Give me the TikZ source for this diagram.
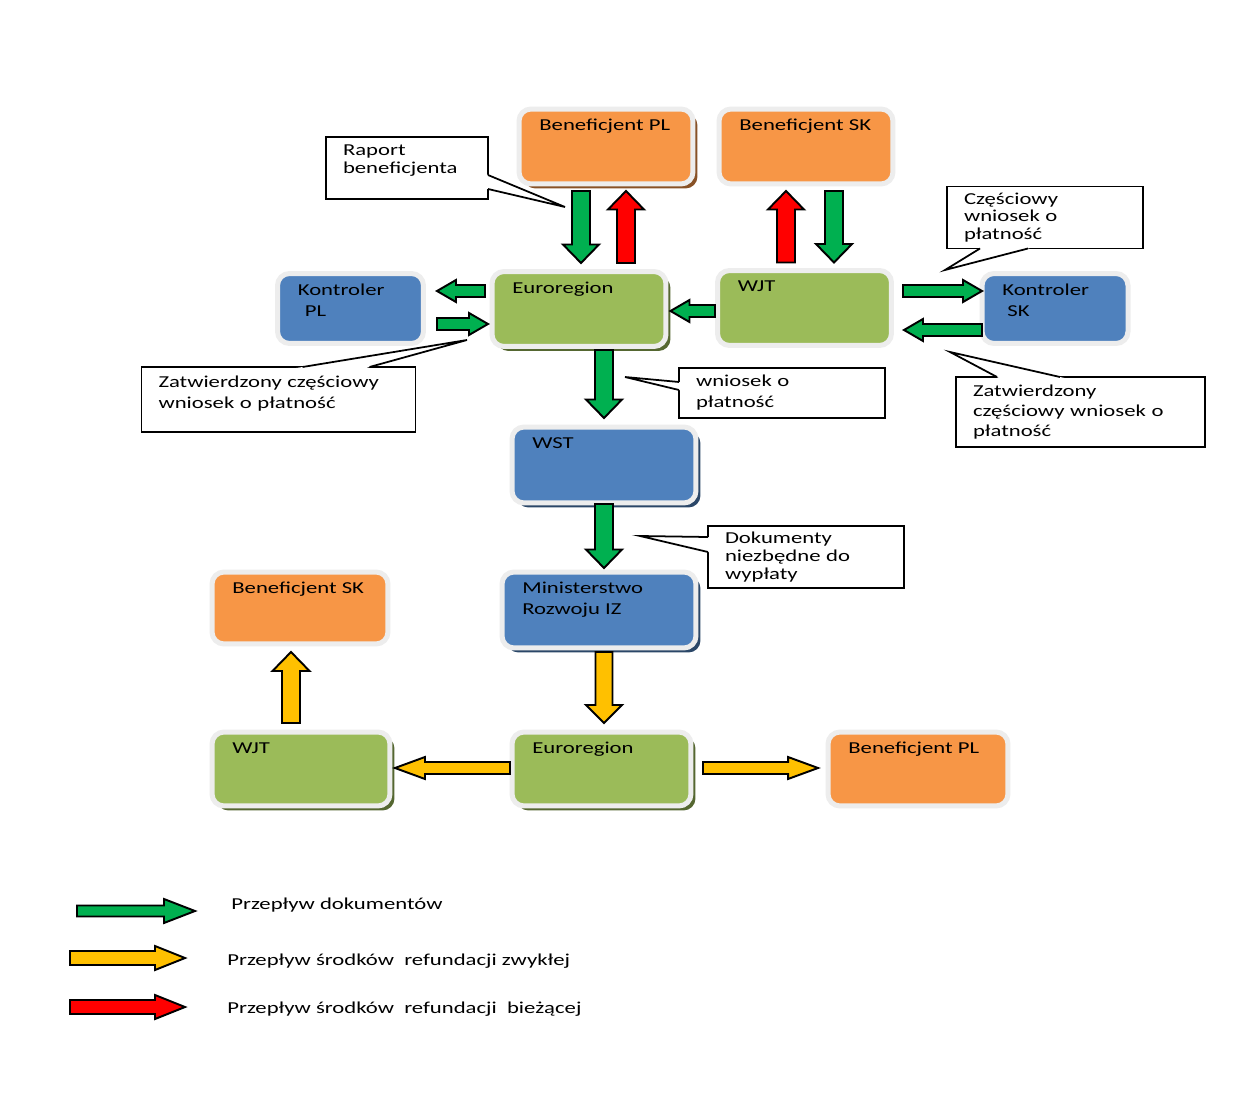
\documentclass[tikz,border=0pt]{standalone}
\usepackage{fontspec}
\setmainfont{Carlito}[FakeStretch=1.36]
\usetikzlibrary{calc,shadows}

\definecolor{orangebox}{HTML}{F79646}
\definecolor{greenbox}{HTML}{9BBB59}
\definecolor{bluebox}{HTML}{4F81BD}
\definecolor{docgreen}{HTML}{00B050}
\definecolor{fundyellow}{HTML}{FFC000}
\definecolor{fundred}{HTML}{FF0000}

% block arrow: style, start, tip, half shaft, half head, head length
\newcommand{\flow}[6]{
  \coordinate (fs) at #2;
  \coordinate (fe) at #3;
  \coordinate (fh) at ($(fe)!#6!(fs)$);
  \filldraw[#1] ($(fs)!#4!90:(fe)$) -- ($(fh)!#4!90:(fe)$) -- ($(fh)!#5!90:(fe)$)
    -- (fe) -- ($(fh)!#5!-90:(fe)$) -- ($(fh)!#4!-90:(fe)$) -- ($(fs)!#4!-90:(fe)$) -- cycle;
}
\newcommand{\bigflow}[3]{\flow{#1}{#2}{#3}{0.18cm}{0.36cm}{0.37cm}}
\newcommand{\sideflow}[3]{\flow{#1}{#2}{#3}{0.12cm}{0.22cm}{0.38cm}}
% callout pointer: base a, base b, tip
\newcommand{\pointer}[3]{
  \coordinate (pa) at #1;
  \coordinate (pb) at #2;
  \fill[white] ($(#3)!1.08!(pa)$) -- (#3) -- ($(#3)!1.08!(pb)$) -- cycle;
  \draw[remarkline] (pa) -- (#3) -- (pb);
}

\begin{document}
\begin{tikzpicture}[x=0.02cm, y=-0.02cm, font=\fontsize{9.5}{12}\selectfont]
  \tikzset{orgbox/.style={rounded corners=0.24cm, draw=black!7, line width=0.1cm, fill=#1,
      inner sep=0pt, outer sep=0pt, minimum width=3.48cm, minimum height=1.5cm}}
  \tikzset{lifted/.style={drop shadow={shadow xshift=0.09cm, shadow yshift=-0.09cm,
      fill=#1!55!black, opacity=1}}}
  \tikzset{heading/.style={label={[anchor=north west, inner sep=0pt, align=left,
      xshift=0.4cm, yshift=-0.2cm]north west:#1}}}
  \tikzset{remark/.style={draw, line width=1pt, fill=white, align=left, inner xsep=0.34cm,
      inner ysep=0.05cm, outer sep=0pt, font=\fontsize{9.5}{10}\selectfont}}
  \tikzset{remarkline/.style={line width=1pt, line join=miter}}
  \tikzset{docflow/.style={draw=black, line width=1.1pt, line join=miter, fill=docgreen}}
  \tikzset{plainflow/.style={draw=black, line width=1.1pt, line join=miter, fill=fundyellow}}
  \tikzset{quickflow/.style={draw=black, line width=1.1pt, line join=miter, fill=fundred}}
  \tikzset{legend/.style={anchor=west, inner sep=0pt}}

  \fill[white] (0,0) rectangle (1240,1101);
  \useasboundingbox (0,0) rectangle (1240,1101);

  % organisations
  \node[orgbox=orangebox, lifted=orangebox, heading={Beneficjent PL}] (benpl1) at (606,146.5) {};
  \node[orgbox=orangebox, heading={Beneficjent SK}] (bensk1) at (806,146.5) {};
  \node[orgbox=greenbox, lifted=greenbox, heading={Euroregion}] (eu1) at (579,309) {};
  \node[orgbox=greenbox, heading={WJT}] (wjt1) at (804.5,308) {};
  \node[orgbox=bluebox, minimum width=2.92cm, minimum height=1.4cm,
    heading={Kontroler\\\hspace{0.14cm}PL}] (kpl) at (350.5,308.5) {};
  \node[orgbox=bluebox, minimum width=2.92cm, minimum height=1.4cm,
    heading={Kontroler\\\hspace{0.1cm}SK}] (ksk) at (1055,308.5) {};
  \node[orgbox=bluebox, lifted=bluebox, minimum width=3.68cm, minimum height=1.52cm,
    heading={WST}] (wst) at (604,465) {};
  \node[orgbox=bluebox, lifted=bluebox, minimum width=3.88cm, minimum height=1.52cm,
    heading={Ministerstwo\\Rozwoju IZ}] (min) at (599,610) {};
  \node[orgbox=orangebox, minimum width=3.52cm, minimum height=1.44cm,
    heading={Beneficjent SK}] (bensk2) at (300,608) {};
  \node[orgbox=greenbox, lifted=greenbox, minimum width=3.56cm, minimum height=1.48cm,
    heading={WJT}] (wjt2) at (301,769) {};
  \node[orgbox=greenbox, lifted=greenbox, minimum width=3.58cm, minimum height=1.48cm,
    heading={Euroregion}] (eu2) at (601.5,769) {};
  \node[orgbox=orangebox, minimum width=3.6cm, minimum height=1.48cm,
    heading={Beneficjent PL}] (benpl2) at (918,769) {};

  % flows
  \bigflow{docflow}{($(benpl1.south)+(-25,7)$)}{($(eu1.north)+(2,-8.5)$)}
  \bigflow{quickflow}{($(eu1.north)+(47,-8.5)$)}{($(benpl1.south)+(20,7)$)}
  \bigflow{quickflow}{($(wjt1.north)+(-18.5,-8)$)}{($(bensk1.south)+(-20,7)$)}
  \bigflow{docflow}{($(bensk1.south)+(28,7)$)}{($(wjt1.north)+(29.5,-8)$)}
  \sideflow{docflow}{($(eu1.west)+(-7,-18)$)}{($(kpl.east)+(13.5,-17.5)$)}
  \sideflow{docflow}{($(kpl.east)+(13.5,15.5)$)}{($(eu1.west)+(-4,15)$)}
  \sideflow{docflow}{($(wjt1.west)+(-2.5,3)$)}{($(eu1.east)+(4.5,2)$)}
  \sideflow{docflow}{($(wjt1.east)+(11.5,-17)$)}{($(ksk.west)+(0,-17.5)$)}
  \sideflow{docflow}{($(ksk.west)+(0,21.5)$)}{($(wjt1.east)+(12.5,22)$)}
  \bigflow{docflow}{($(eu1.south)+(25,3.5)$)}{($(wst.north)+(0,-9)$)}
  \bigflow{docflow}{($(wst.south)+(0,1)$)}{($(min.north)+(5,-4)$)}
  \flow{plainflow}{($(min.south)+(5,4)$)}{($(eu2.north)+(2.5,-9)$)}{0.17cm}{0.36cm}{0.36cm}
  \flow{plainflow}{($(wjt2.north)+(-10,-9)$)}{($(bensk2.south)+(-9,8)$)}{0.18cm}{0.37cm}{0.38cm}
  \flow{plainflow}{($(eu2.west)+(-2,-1)$)}{($(wjt2.east)+(5,-1)$)}{0.12cm}{0.22cm}{0.6cm}
  \flow{plainflow}{($(eu2.east)+(12,-1)$)}{($(benpl2.west)+(-10,-1)$)}{0.12cm}{0.22cm}{0.6cm}

  % remarks
  \coordinate (raporttip) at (565,207);
  \coordinate (czesctip) at (945,270);
  \coordinate (zatwpltip) at (467,340);
  \coordinate (wniosektip) at (625,377);
  \coordinate (zatwsktip) at (950,352);
  \coordinate (doktip) at (640,536);
  \node[remark, minimum width=3.24cm, minimum height=1.24cm, text width=2.56cm] (raport)
    at (407,168) {Raport\\beneficjenta\\\mbox{}};
  \node[remark, minimum width=3.92cm, minimum height=1.24cm, text width=3.24cm] (czesc)
    at (1045,217.5) {Częściowy\\wniosek o\\płatność};
  \node[remark, minimum width=5.46cm, minimum height=1.3cm, text width=4.8cm,
    font=\fontsize{9.5}{12}\selectfont] (zatwpl)
    at (278.5,399.5) {Zatwierdzony częściowy\\wniosek o płatność\\[-4pt]\mbox{}};
  \node[remark, minimum width=4.12cm, minimum height=1.0cm, text width=3.44cm,
    font=\fontsize{9.5}{12}\selectfont] (wniosek)
    at (782,393) {wniosek o\\płatność};
  \node[remark, minimum width=4.98cm, minimum height=1.4cm, text width=4.3cm,
    font=\fontsize{9.5}{11.5}\selectfont] (zatwsk)
    at (1080.5,412) {Zatwierdzony\\częściowy wniosek o\\płatność};
  \node[remark, minimum width=3.92cm, minimum height=1.24cm, text width=3.24cm] (dok)
    at (806,557) {Dokumenty\\niezbędne do\\wypłaty};
  \pointer{($(raport.north east)+(0,38)$)}{($(raport.north east)+(0,52)$)}{raporttip}
  \pointer{($(czesc.south west)+(33,0)$)}{($(czesc.south west)+(81,0)$)}{czesctip}
  \pointer{($(zatwpl.north west)+(161,0)$)}{($(zatwpl.north west)+(228,0)$)}{zatwpltip}
  \pointer{($(wniosek.north west)+(0,14)$)}{($(wniosek.north west)+(0,22)$)}{wniosektip}
  \pointer{($(zatwsk.north west)+(41,0)$)}{($(zatwsk.north west)+(104,0)$)}{zatwsktip}
  \pointer{($(dok.north west)+(0,11)$)}{($(dok.north west)+(0,26)$)}{doktip}

  % legend
  \node[legend] (lgdoc) at (231,905) {Przepływ dokumentów};
  \node[legend] (lgplain) at (227,961) {Przepływ środków\ \ refundacji zwykłej};
  \node[legend] (lgquick) at (227,1009) {Przepływ środków\ \ refundacji\ \ bieżącej};
  \flow{docflow}{($(lgdoc.west)+(-154,6)$)}{($(lgdoc.west)+(-36,6)$)}{0.11cm}{0.24cm}{0.62cm}
  \flow{plainflow}{($(lgplain.west)+(-157,-3)$)}{($(lgplain.west)+(-42,-3)$)}{0.14cm}{0.24cm}{0.6cm}
  \flow{quickflow}{($(lgquick.west)+(-157,-2)$)}{($(lgquick.west)+(-42,-2)$)}{0.14cm}{0.24cm}{0.6cm}
\end{tikzpicture}
\end{document}
